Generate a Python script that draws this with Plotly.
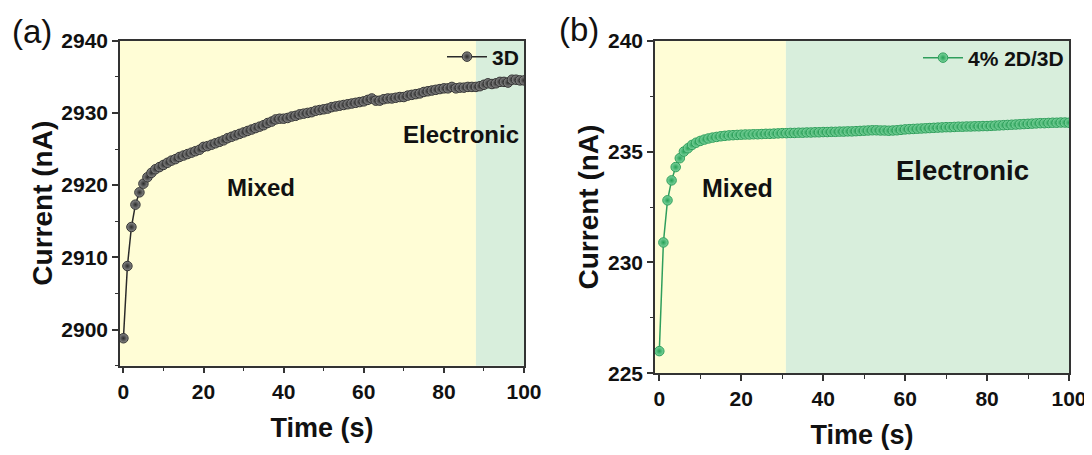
import plotly.graph_objects as go

# ---------------- data ----------------
time_a = list(range(0, 101))
current_3d = [
    2898.8, 2908.8, 2914.2, 2917.3, 2919.0, 2920.2, 2921.1, 2921.7, 2922.2, 2922.5,
    2922.8, 2923.1, 2923.4, 2923.6, 2923.9, 2924.1, 2924.3, 2924.5, 2924.7, 2924.9,
    2925.3, 2925.4, 2925.6, 2925.8, 2926.0, 2926.2, 2926.5, 2926.7, 2926.9, 2927.1,
    2927.3, 2927.5, 2927.7, 2927.9, 2928.1, 2928.3, 2928.6, 2928.8, 2929.1, 2929.2,
    2929.2, 2929.3, 2929.5, 2929.6, 2929.8, 2929.9, 2930.0, 2930.1, 2930.3, 2930.4,
    2930.5, 2930.6, 2930.8, 2930.9, 2931.0, 2931.1, 2931.2, 2931.3, 2931.4, 2931.5,
    2931.6, 2931.8, 2932.0, 2931.7, 2931.7, 2931.9, 2932.0, 2932.0, 2932.1, 2932.2,
    2932.2, 2932.4, 2932.5, 2932.6, 2932.7, 2932.9, 2933.0, 2933.1, 2933.2, 2933.3,
    2933.4, 2933.4, 2933.6, 2933.4, 2933.5, 2933.5, 2933.6, 2933.6, 2933.6, 2933.7,
    2933.9, 2934.1, 2934.0, 2934.1, 2934.3, 2934.3, 2934.2, 2934.6, 2934.6, 2934.5,
    2934.5,
]

time_b = list(range(0, 101))
current_2d3d = [
    226.00, 230.90, 232.80, 233.70, 234.30, 234.70, 235.00, 235.15, 235.30, 235.40,
    235.48, 235.54, 235.59, 235.63, 235.66, 235.69, 235.71, 235.73, 235.74, 235.75,
    235.76, 235.77, 235.77, 235.78, 235.78, 235.79, 235.80, 235.80, 235.81, 235.82,
    235.83, 235.83, 235.84, 235.84, 235.85, 235.85, 235.86, 235.86, 235.87, 235.87,
    235.88, 235.88, 235.89, 235.89, 235.90, 235.90, 235.91, 235.91, 235.92, 235.93,
    235.94, 235.95, 235.96, 235.96, 235.95, 235.95, 235.94, 235.95, 235.96, 235.98,
    236.00, 236.01, 236.02, 236.03, 236.04, 236.05, 236.06, 236.07, 236.08, 236.09,
    236.10, 236.10, 236.11, 236.12, 236.12, 236.13, 236.13, 236.14, 236.14, 236.15,
    236.15, 236.16, 236.17, 236.18, 236.19, 236.20, 236.21, 236.22, 236.23, 236.24,
    236.25, 236.26, 236.27, 236.28, 236.28, 236.29, 236.30, 236.30, 236.31, 236.31,
    236.30,
]

x_ticks = [0, 20, 40, 60, 80, 100]
y_ticks_a = [2900, 2910, 2920, 2930, 2940]
y_ticks_b = [225, 230, 235, 240]

boundary_a = 88.0
boundary_b = 30.9

FONT = "Arial, Liberation Sans, sans-serif"
YELLOW = "#FFFDD6"
GREEN = "#D8EEDC"
INK = "#111111"

# the page body has an 8px margin; lay out the figure in page pixels minus that offset
OFF = 8
W, H = 1092 - OFF, 455 - OFF

def fx(px):
    return (px - OFF) / W

def fy(py):
    return 1 - (py - OFF) / H

fig = go.Figure()

fig.add_trace(go.Scatter(
    x=time_a, y=current_3d, mode="lines+markers", name="<b>3D</b>",
    line=dict(color="#2a2a2a", width=1.5),
    marker=dict(size=9.5, color="#8c8c8c", gradient=dict(type="radial", color="#2a2a2a"),
                line=dict(color="#333333", width=1)),
    xaxis="x", yaxis="y", legend="legend",
))
fig.add_trace(go.Scatter(
    x=time_b, y=current_2d3d, mode="lines+markers", name="<b>4% 2D/3D</b>",
    line=dict(color="#2f9e5c", width=1.5),
    marker=dict(size=9.5, color="#80d6a0", gradient=dict(type="radial", color="#26a056"),
                line=dict(color="#2e9e5b", width=1)),
    xaxis="x2", yaxis="y2", legend="legend2",
))

# shaded regimes
fig.add_shape(type="rect", xref="x", yref="y domain", x0=-0.85, x1=boundary_a, y0=0, y1=1,
              fillcolor=YELLOW, line_width=0, layer="below")
fig.add_shape(type="rect", xref="x", yref="y domain", x0=boundary_a, x1=100, y0=0, y1=1,
              fillcolor=GREEN, line_width=0, layer="below")
fig.add_shape(type="rect", xref="x2", yref="y2 domain", x0=-1.05, x1=boundary_b, y0=0, y1=1,
              fillcolor=YELLOW, line_width=0, layer="below")
fig.add_shape(type="rect", xref="x2", yref="y2 domain", x0=boundary_b, x1=100, y0=0, y1=1,
              fillcolor=GREEN, line_width=0, layer="below")

tickfont = dict(family=FONT, size=21, color=INK)

def xax(domain, anchor, rng):
    return dict(domain=domain, anchor=anchor, range=rng, showgrid=False, zeroline=False,
                automargin=False,
                showline=True, linecolor="#333333", linewidth=1.5, mirror=True,
                ticks="outside", ticklen=6, tickwidth=1.5, tickcolor="#333333",
                tickvals=x_ticks, ticktext=["<b>%d</b>" % v for v in x_ticks],
                tickfont=tickfont,
                minor=dict(ticks="outside", ticklen=3.5, tickwidth=1.2, tickcolor="#333333", dtick=10, tick0=0),
                title=dict(text="<b>Time (s)</b>", font=dict(family=FONT, size=27, color=INK), standoff=16))

def yax(domain, anchor, rng, vals, mdt, t0):
    return dict(domain=domain, anchor=anchor, range=rng, showgrid=False, zeroline=False,
                automargin=False,
                showline=True, linecolor="#333333", linewidth=1.5, mirror=True,
                ticks="outside", ticklen=6, tickwidth=1.5, tickcolor="#333333",
                tickvals=vals, ticktext=["<b>%d</b>" % v for v in vals], tickfont=tickfont,
                minor=dict(ticks="outside", ticklen=3.5, tickwidth=1.2, tickcolor="#333333", dtick=mdt, tick0=t0),
                title=dict(text="<b>Current (nA)</b>", font=dict(family=FONT, size=28, color=INK), standoff=1))

fig.update_layout(
    width=W, height=H,
    margin=dict(l=0, r=0, t=0, b=0),
    paper_bgcolor="white", plot_bgcolor="white",
    xaxis=xax([fx(120), fx(524)], "y", [-0.85, 100]),
    yaxis=yax([fy(365.7), fy(40.7)], "x", [2895, 2940], y_ticks_a, 5, 2895),
    xaxis2=xax([fx(655), fx(1069)], "y2", [-1.05, 100]),
    yaxis2=yax([fy(373.3), fy(40.7)], "x2", [225, 240], y_ticks_b, 2.5, 225),
    legend=dict(x=fx(524), y=fy(36.5), xanchor="right", yanchor="top", bgcolor="rgba(0,0,0,0)",
                font=dict(family=FONT, size=21, color=INK), itemwidth=40),
    legend2=dict(x=fx(1069), y=fy(37.5), xanchor="right", yanchor="top", bgcolor="rgba(0,0,0,0)",
                 font=dict(family=FONT, size=21, color=INK), itemwidth=40),
    showlegend=True,
)

for txt, px, py in [("(a)", 32, 31), ("(b)", 579, 30)]:
    fig.add_annotation(text=txt, xref="paper", yref="paper", x=fx(px), y=fy(py),
                       xanchor="center", yanchor="middle", showarrow=False,
                       font=dict(family=FONT, size=33, color=INK))

fig.add_annotation(text="<b>Mixed</b>", xref="x", yref="y", x=34.3, y=2919.7, showarrow=False,
                   font=dict(family=FONT, size=24, color=INK))
fig.add_annotation(text="<b>Electronic</b>", xref="x", yref="y", x=84.3, y=2927.05, showarrow=False,
                   font=dict(family=FONT, size=24, color=INK))
fig.add_annotation(text="<b>Mixed</b>", xref="x2", yref="y2", x=19.1, y=233.34, showarrow=False,
                   font=dict(family=FONT, size=25, color=INK))
fig.add_annotation(text="<b>Electronic</b>", xref="x2", yref="y2", x=73.9, y=234.14, showarrow=False,
                   font=dict(family=FONT, size=27.5, color=INK))

fig.write_html("out.html")
